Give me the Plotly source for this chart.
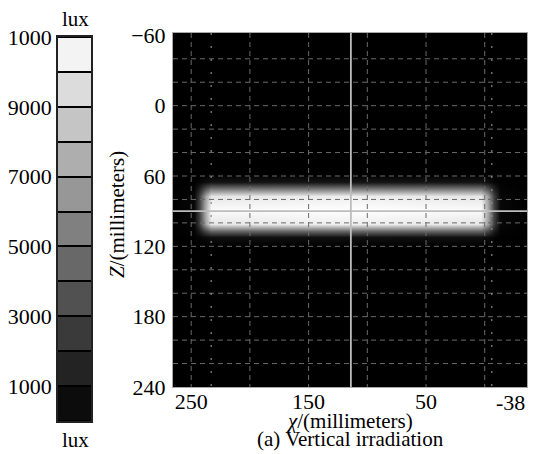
import plotly.graph_objects as go

# ---- data ----
x_mm = [265.5, 248, 243, 238, 233, 114, 3, -3, -8, -13, -36]
z_mm = [-62, 58, 65, 71, 77, 89, 101, 107, 112, 120, 240]
lux = [
    [0, 0, 0, 0, 0, 0, 0, 0, 0, 0, 0],
    [0, 0, 0, 0, 0, 0, 0, 0, 0, 0, 0],
    [0, 40, 260, 620, 880, 900, 880, 620, 260, 40, 0],
    [0, 190, 1450, 3650, 5340, 5500, 5340, 3650, 1450, 190, 0],
    [0, 320, 2600, 6700, 9900, 10300, 9900, 6700, 2600, 320, 0],
    [0, 350, 2800, 7200, 10800, 11000, 10800, 7200, 2800, 350, 0],
    [0, 320, 2600, 6700, 9900, 10300, 9900, 6700, 2600, 320, 0],
    [0, 150, 1150, 2950, 4300, 4400, 4300, 2950, 1150, 150, 0],
    [0, 30, 190, 470, 680, 700, 680, 470, 190, 30, 0],
    [0, 0, 0, 0, 0, 0, 0, 0, 0, 0, 0],
    [0, 0, 0, 0, 0, 0, 0, 0, 0, 0, 0],
]
x_ticks = [250, 150, 50]
x_end_label = "-38"
z_ticks = [-60, 0, 60, 120, 180, 240]
grid_x = [250, 200, 150, 100, 50, 0]
grid_z = [-40, -20, 0, 20, 40, 60, 80, 100, 120, 140, 160, 180, 200, 220]
dot_x = [233, -6]
cross_x = 114
cross_z = 90
band_lux = [500, 1500, 2500, 3500, 4500, 5500, 6500, 7500, 8500, 9500, 10500]
bar_ticks = [1000, 3000, 5000, 7000, 9000, 11000]
bar_ticktext = ["1000", "3000", "5000", "7000", "9000", "1000"]

X_RANGE = [265.5, -36]
Z_RANGE = [240, -62]
LUX_MAX = 11000
FONT = "Liberation Serif"
TICK = 22
TITLE = 21
gray = [[0, "rgb(0,0,0)"], [1, "rgb(255,255,255)"]]

# page has an 8px body margin: figure is placed at (8, 8)
OFF = 8
W, H = 543 - OFF, 454 - OFF


def fx(px):
    return (px - OFF) / W


def fy(py):
    return (H - (py - OFF)) / H


fig = go.Figure()

fig.add_trace(go.Heatmap(x=x_mm, y=z_mm, z=lux, colorscale=gray, zmin=0, zmax=LUX_MAX,
                         zsmooth="best", showscale=False, hoverinfo="skip"))

# dashed grid
gx, gy = [], []
for g in grid_x:
    gx += [g, g, None]
    gy += [Z_RANGE[1], Z_RANGE[0], None]
for g in grid_z:
    gx += [X_RANGE[0], X_RANGE[1], None]
    gy += [g, g, None]
fig.add_trace(go.Scatter(x=gx, y=gy, mode="lines", line=dict(color="#6a6a6a", width=1, dash="5px,4px"),
                         hoverinfo="skip", showlegend=False))
# dotted lines
dx, dy = [], []
for g in dot_x:
    dx += [g, g, None]
    dy += [Z_RANGE[1], Z_RANGE[0], None]
fig.add_trace(go.Scatter(x=dx, y=dy, mode="lines", line=dict(color="#8a8a8a", width=1.2, dash="2px,11px"),
                         hoverinfo="skip", showlegend=False))
# crosshair
fig.add_trace(go.Scatter(x=[cross_x, cross_x, None, X_RANGE[0], X_RANGE[1]],
                         y=[Z_RANGE[1], Z_RANGE[0], None, cross_z, cross_z],
                         mode="lines", line=dict(color="#bdbdbd", width=1.8),
                         hoverinfo="skip", showlegend=False))

# colour bar as its own subplot
fig.add_trace(go.Heatmap(x=[0], y=band_lux, z=[[v] for v in band_lux], colorscale=gray,
                         zmin=0, zmax=LUX_MAX, showscale=False, ygap=2, xaxis="x2", yaxis="y2",
                         hoverinfo="skip"))

fig.update_layout(
    width=W, height=H, margin=dict(l=0, r=0, t=0, b=0, autoexpand=False),
    paper_bgcolor="white", plot_bgcolor="black", showlegend=False,
    font=dict(family=FONT, size=TICK, color="black"),
    xaxis=dict(domain=[fx(173), fx(527)], range=X_RANGE, tickvals=x_ticks, showgrid=False,
               zeroline=False, showline=True, mirror=True, linecolor="#a8a8a8", linewidth=1,
               ticks="", ticklabelstandoff=-5, automargin=False,
               tickfont=dict(size=TICK, family=FONT)),
    yaxis=dict(domain=[fy(387), fy(33)], range=Z_RANGE, tickvals=z_ticks, showgrid=False,
               zeroline=False, showline=True, mirror=True, linecolor="#a8a8a8", linewidth=1,
               ticks="outside", ticklen=2, tickcolor="white", automargin=False,
               tickfont=dict(size=TICK, family=FONT)),
    xaxis2=dict(domain=[fx(58), fx(91)], anchor="y2", range=[-0.5, 0.5], showticklabels=False,
                showgrid=False, zeroline=False, showline=True, mirror=True, linecolor="#222",
                linewidth=1.5, automargin=False),
    yaxis2=dict(domain=[fy(421), fy(37)], anchor="x2", range=[0, LUX_MAX],
                tickvals=bar_ticks, ticktext=bar_ticktext, showgrid=False, zeroline=False,
                showline=True, mirror=True, linecolor="#222", linewidth=1.5, automargin=False,
                ticks="", tickfont=dict(size=TICK, family=FONT)),
    annotations=[
        dict(text=x_end_label, xref="x", yref="paper", x=X_RANGE[1], y=fy(388),
             xanchor="right", yanchor="top", showarrow=False, font=dict(size=TICK, family=FONT)),
        dict(text="<i>χ</i>/(millimeters)", xref="paper", yref="paper", x=fx(349), y=fy(421),
             xanchor="center", yanchor="middle", showarrow=False, font=dict(size=TITLE, family=FONT)),
        dict(text="(a) Vertical irradiation", xref="paper", yref="paper", x=fx(350), y=fy(439),
             xanchor="center", yanchor="middle", showarrow=False, font=dict(size=TITLE, family=FONT)),
        dict(text="<i>Z</i>/(millimeters)", xref="paper", yref="paper", x=fx(117), y=fy(215),
             xanchor="center", yanchor="middle", textangle=-90, showarrow=False,
             font=dict(size=TITLE, family=FONT)),
        dict(text="lux", xref="paper", yref="paper", x=fx(75), y=fy(19),
             xanchor="center", yanchor="middle", showarrow=False, font=dict(size=TITLE, family=FONT)),
        dict(text="lux", xref="paper", yref="paper", x=fx(75), y=fy(440),
             xanchor="center", yanchor="middle", showarrow=False, font=dict(size=TITLE, family=FONT)),
    ],
)

fig.write_html("out.html")
